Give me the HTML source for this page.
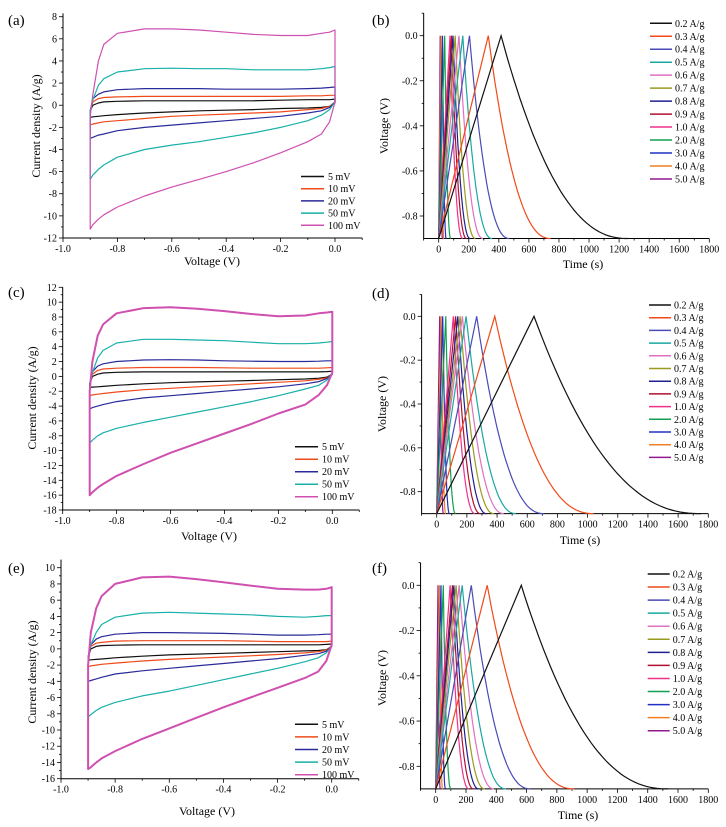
<!DOCTYPE html>
<html><head><meta charset="utf-8"><style>
html,body{margin:0;padding:0;background:#fff;}
svg{display:block;font-family:"Liberation Serif",serif;}
</style></head><body>
<svg id="fig" width="726" height="827" viewBox="0 0 726 827" xmlns="http://www.w3.org/2000/svg"></svg>
<script>
// ---- CV data ----
const cvVoltages=[-0.9,-0.89,-0.87,-0.85,-0.8,-0.7,-0.6,-0.5,-0.4,-0.3,-0.2,-0.1,-0.05,-0.02,0];
const cvRates=["5 mV","10 mV","20 mV","50 mV","100 mV"];
const cvA_up=[
[-0.5,0.0,0.2,0.3,0.35,0.4,0.4,0.4,0.4,0.4,0.45,0.5,0.5,0.5,0.55],
[-0.5,0.3,0.6,0.7,0.75,0.8,0.8,0.8,0.8,0.8,0.8,0.85,0.85,0.9,0.9],
[-0.5,0.6,1.0,1.2,1.4,1.5,1.5,1.5,1.45,1.45,1.45,1.5,1.55,1.6,1.65],
[-0.5,0.5,1.8,2.4,3.0,3.3,3.35,3.3,3.3,3.2,3.2,3.2,3.3,3.4,3.5],
[-1,1,4,5.5,6.5,6.9,6.9,6.8,6.6,6.4,6.3,6.3,6.5,6.6,6.8]];
const cvA_lo=[
[-1.1,-1.05,-1.0,-0.95,-0.85,-0.7,-0.6,-0.5,-0.45,-0.4,-0.3,-0.25,-0.2,-0.1,0.2],
[-1.8,-1.7,-1.6,-1.5,-1.4,-1.2,-1.0,-0.9,-0.8,-0.7,-0.6,-0.4,-0.3,-0.1,0.3],
[-3.0,-2.9,-2.7,-2.6,-2.3,-2.0,-1.8,-1.6,-1.4,-1.2,-1.0,-0.7,-0.5,-0.2,0.3],
[-6.7,-6.3,-5.8,-5.4,-4.7,-4.0,-3.6,-3.3,-2.9,-2.5,-2.0,-1.4,-0.9,-0.4,0.3],
[-11.2,-10.8,-10.3,-9.9,-9.2,-8.2,-7.4,-6.7,-6.0,-5.2,-4.3,-3.3,-2.6,-1.5,0.3]];
const cvC_up=[
[-1,0.0,0.3,0.45,0.55,0.6,0.6,0.6,0.6,0.6,0.6,0.6,0.6,0.65,0.7],
[-1,0.3,0.8,1.0,1.1,1.2,1.2,1.2,1.15,1.1,1.1,1.1,1.1,1.15,1.2],
[-1,0.6,1.4,1.7,2.0,2.2,2.25,2.2,2.1,2.05,2.0,2.0,2.05,2.1,2.1],
[-1,0.5,2.5,3.5,4.5,5.0,5.0,4.9,4.8,4.6,4.4,4.4,4.5,4.6,4.7],
[-2,2,5.5,7,8.5,9.2,9.3,9.1,8.8,8.4,8.1,8.2,8.5,8.6,8.7]];
const cvC_lo=[
[-1.5,-1.45,-1.4,-1.35,-1.2,-1.0,-0.85,-0.75,-0.65,-0.55,-0.45,-0.35,-0.25,-0.1,0.3],
[-2.6,-2.5,-2.4,-2.3,-2.1,-1.8,-1.6,-1.4,-1.2,-1.0,-0.8,-0.6,-0.4,-0.2,0.3],
[-4.4,-4.2,-4.0,-3.8,-3.4,-2.9,-2.6,-2.3,-2.0,-1.7,-1.4,-1.0,-0.7,-0.3,0.3],
[-9,-8.6,-8.0,-7.6,-7.0,-6.2,-5.5,-4.8,-4.1,-3.4,-2.6,-1.7,-1.2,-0.5,0.3],
[-16,-15.6,-15,-14.5,-13.4,-11.8,-10.3,-9,-7.7,-6.4,-5,-3.8,-2.5,-1.2,0.5]];
const cvE_up=[
[-1,0.0,0.3,0.4,0.45,0.5,0.5,0.5,0.5,0.5,0.5,0.5,0.5,0.55,0.6],
[-1,0.3,0.7,0.8,0.95,1.0,1.0,1.0,1.0,0.95,0.9,0.9,0.9,0.9,0.95],
[-1,0.5,1.2,1.5,1.8,2.0,2.0,1.95,1.9,1.8,1.7,1.7,1.75,1.8,1.8],
[-1,0.5,2,3,3.9,4.4,4.5,4.4,4.3,4.2,4.0,3.9,4.0,4.1,4.1],
[-2,2,5,6.5,8,8.8,8.9,8.6,8.2,7.8,7.4,7.3,7.3,7.4,7.6]];
const cvE_lo=[
[-1.4,-1.35,-1.3,-1.25,-1.1,-0.9,-0.75,-0.65,-0.55,-0.45,-0.35,-0.25,-0.2,-0.1,0.3],
[-2.2,-2.1,-2.0,-1.9,-1.75,-1.5,-1.3,-1.15,-1.0,-0.85,-0.7,-0.5,-0.35,-0.15,0.3],
[-4.0,-3.9,-3.7,-3.5,-3.1,-2.7,-2.4,-2.1,-1.8,-1.5,-1.2,-0.8,-0.6,-0.3,0.3],
[-8.4,-8.1,-7.6,-7.2,-6.6,-5.8,-5.2,-4.5,-3.8,-3.1,-2.4,-1.6,-1.1,-0.5,0.3],
[-14.8,-14.6,-14.0,-13.5,-12.6,-11.1,-9.8,-8.5,-7.2,-6.0,-4.8,-3.6,-2.8,-1.5,0.5]];
// ---- GCD data ----
const gcdLabels=["0.2 A/g","0.3 A/g","0.4 A/g","0.5 A/g","0.6 A/g","0.7 A/g","0.8 A/g","0.9 A/g","1.0 A/g","2.0 A/g","3.0 A/g","4.0 A/g","5.0 A/g"];
const gcdB_charge=[415,330,205,160,135,110,95,85,75,40,25,15,10];
const gcdB_end=[1260,745,470,355,295,245,210,185,160,80,50,35,25];
const gcdD_charge=[645,385,265,195,170,155,140,125,110,60,40,30,20];
const gcdD_end=[1750,1040,710,525,445,380,330,290,255,125,85,60,45];
const gcdF_charge=[565,340,235,175,155,135,120,110,95,50,35,25,15];
const gcdF_end=[1535,915,625,465,385,325,285,250,220,100,65,45,30];
const cvColors=["#111","#f04a1a","#2a2a9a","#18b0a8","#d050b0"];
const gcdColors=["#111","#f04a1a","#4a4ab8","#1aa8a0","#e070c0","#9a9a20","#202090","#b01030","#f0308a","#10a050","#2030c0","#f08020","#901890"];

const NS="http://www.w3.org/2000/svg";
const svg=document.getElementById('fig');
function mk(tag,attrs,parent){const e=document.createElementNS(NS,tag);for(const k in attrs)e.setAttribute(k,attrs[k]);(parent||svg).appendChild(e);return e;}
function lin(v0,p0,v1,p1){return v=>p0+(v-v0)*(p1-p0)/(v1-v0);}
function fmt1(v){return Math.abs(v)<1e-6?'0.0':v.toFixed(1);}

function axes(g,X,Y,xmin,xmax,ymin,ymax,xt,xminor,yt,yminor,xfmt,yfmt){
  const L=X(xmin),R=X(xmax),T=Y(ymax),B=Y(ymin);
  const ax=mk('path',{d:`M${L},${T}V${B}H${R}`,stroke:'#000','stroke-width':1,fill:'none'},g);
  
  
  for(let v=xt[0];v<=xt[1]+1e-9;v+=xminor){
    const major=Math.abs(Math.round(v/xt[2])*xt[2]-v)<1e-6;
    mk('line',{x1:X(v),x2:X(v),y1:B,y2:B+(major?4:2),stroke:'#000','stroke-width':0.8},g);
    if(major){const t=mk('text',{x:X(v),y:B+14,'font-size':10,'text-anchor':'middle'},g);t.textContent=xfmt(v);
      
      }
  }
  for(let v=yt[0];v<=yt[1]+1e-9;v+=yminor){
    const major=Math.abs(Math.round(v/yt[2])*yt[2]-v)<1e-6;
    mk('line',{x1:L-(major?4:2),x2:L,y1:Y(v),y2:Y(v),stroke:'#000','stroke-width':0.8},g);
    if(major){const t=mk('text',{x:L-6,y:Y(v)+3.5,'font-size':10,'text-anchor':'end'},g);t.textContent=yfmt(v);
      
      }
  }
}
function title(g,txt,x,y,rot,name){
  const t=mk('text',{x:x,y:y,'font-size':12,'text-anchor':'middle',transform:rot?`rotate(-90 ${x} ${y})`:''},g);
  t.textContent=txt;
  
  
}
function plabel(txt,x,y){const t=mk('text',{x:x,y:y,'font-size':15},svg);t.textContent=txt;
  
  }

function cvPanel(id,X,Y,ymin,ymax,ytop,ups,los,legX,legY,legStep,thick){
  const g=mk('g',{},svg);
  
  
  axes(g,X,Y,-1.0,0.1,ymin,ytop,[-1.0,0.1,0.2],0.1,[ymin,ymax,2],1,fmt1,v=>String(Math.round(v)));
  for(let s=0;s<ups.length;s++){
    let d='';
    cvVoltages.forEach((v,i)=>{d+=(i?'L':'M')+X(v).toFixed(1)+','+Y(ups[s][i]).toFixed(1);});
    for(let i=cvVoltages.length-1;i>=0;i--)d+='L'+X(cvVoltages[i]).toFixed(1)+','+Y(los[s][i]).toFixed(1);
    d+='Z';
    const p=mk('path',{d:d,fill:'none',stroke:cvColors[s],'stroke-width':(thick&&s==4)?2:1.2,'stroke-linejoin':'round'},g);
    
    
    const ly=legY+s*legStep;
    const ll=mk('line',{x1:legX,x2:legX+23,y1:ly,y2:ly,stroke:cvColors[s],'stroke-width':1.5},g);
    
    
    const t=mk('text',{x:legX+27,y:ly+3.5,'font-size':10},g);t.textContent=cvRates[s];
    
    
  }
  return g;
}
function gcdPanel(id,X,Y,tc,te,legX,legY,legStep){
  const g=mk('g',{},svg);
  
  
  axes(g,X,Y,-100,1800,-0.9,0.1,[-100,1800,200],100,[-0.8,0.1,0.2],0.1,v=>String(Math.round(v)),fmt1);
  for(let s=tc.length-1;s>=0;s--){
    let d=`M${X(0).toFixed(1)},${Y(-0.9).toFixed(1)}L${X(tc[s]).toFixed(1)},${Y(0).toFixed(1)}`;
    for(let k=1;k<=40;k++){const u=k/40;const v=-0.9*(1-Math.pow(1-u,2.3));
      d+='L'+X(tc[s]+u*(te[s]-tc[s])).toFixed(1)+','+Y(v).toFixed(1);}
    const p=mk('path',{d:d,fill:'none',stroke:gcdColors[s],'stroke-width':1.2},g);
    
    
  }
  for(let s=0;s<tc.length;s++){
    const ly=legY+s*legStep;
    const ll=mk('line',{x1:legX,x2:legX+22,y1:ly,y2:ly,stroke:gcdColors[s],'stroke-width':1.5},g);
    
    
    const t=mk('text',{x:legX+25,y:ly+3.5,'font-size':10},g);t.textContent=gcdLabels[s];
    
    
  }
  return g;
}
// (a)
let X=lin(-1,63,0,335),Y=lin(8,16.7,-12,238);
let g=cvPanel('a',X,Y,-12,8,8.3,cvA_up,cvA_lo,301,176.5,12.2,false);
title(g,'Voltage (V)',212,265,false,'x-axis-title');title(g,'Current density (A/g)',40,126,true,'y-axis-title');
plabel('(a)',8,25);
// (b)
X=lin(0,438.7,1800,709.3);Y=lin(0,35.7,-0.8,216);
g=gcdPanel('b',X,Y,gcdB_charge,gcdB_end,650,23.3,12.97);
title(g,'Time (s)',583,268,false,'x-axis-title');title(g,'Voltage (V)',388,126,true,'y-axis-title');
plabel('(b)',372,25);
// (c)
X=lin(-1,62.7,0,332.3);Y=lin(12,287.3,-18,510);
g=cvPanel('c',X,Y,-18,12,12,cvC_up,cvC_lo,295,446.7,12.5,true);
title(g,'Voltage (V)',209,540,false,'x-axis-title');title(g,'Current density (A/g)',36,398,true,'y-axis-title');
plabel('(c)',8,297);
// (d)
X=lin(0,436.7,1800,708.3);Y=lin(0,316.3,-0.8,491.7);
g=gcdPanel('d',X,Y,gcdD_charge,gcdD_end,649,305,12.7);
title(g,'Time (s)',580,544,false,'x-axis-title');title(g,'Voltage (V)',386,404,true,'y-axis-title');
plabel('(d)',372,298);
// (e)
X=lin(-1,61,0,331.7);Y=lin(10,567.7,-16,778.7);
g=cvPanel('e',X,Y,-16,10,11,cvE_up,cvE_lo,295,724.3,12.6,true);
title(g,'Voltage (V)',207,815,false,'x-axis-title');title(g,'Current density (A/g)',36,672,true,'y-axis-title');
plabel('(e)',8,573);
// (f)
X=lin(0,435.7,1800,708.3);Y=lin(0,585.3,-0.8,766.3);
g=gcdPanel('f',X,Y,gcdF_charge,gcdF_end,647.7,574,13.06);
title(g,'Time (s)',578,819,false,'x-axis-title');title(g,'Voltage (V)',386,678,true,'y-axis-title');
plabel('(f)',372,573);
</script>
</body></html>
